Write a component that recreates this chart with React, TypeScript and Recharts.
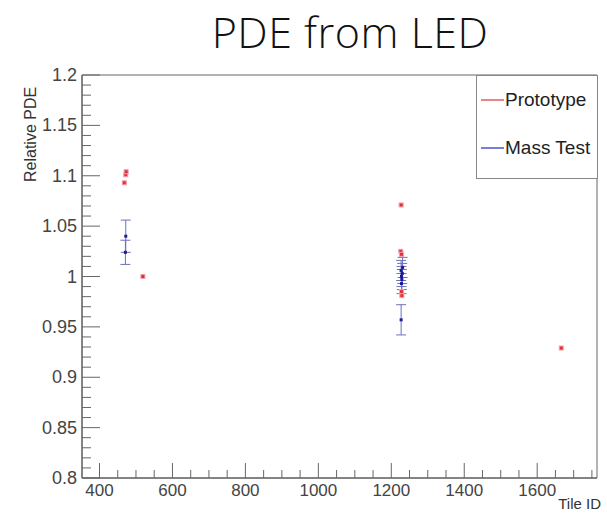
import { ScatterChart, Scatter, XAxis, YAxis, ErrorBar, ReferenceArea } from 'recharts'

// Prototype measurements (red)
const protoTile = [468, 472, 473, 519, 1227, 1226, 1228, 1228, 1229, 1666]
const protoPde = [1.093, 1.101, 1.104, 1.0, 1.071, 1.025, 1.022, 0.985, 0.981, 0.929]

// Mass test measurements (blue) with errors
const massTile = [472, 471, 1227, 1228, 1229, 1230, 1228, 1231, 1227]
const massPde = [1.04, 1.024, 1.006, 1.0, 0.997, 1.003, 0.993, 1.009, 0.957]
const massErr = [0.016, 0.012, 0.01, 0.01, 0.01, 0.01, 0.01, 0.01, 0.015]

const seriesNames = ['Prototype', 'Mass Test']
const seriesColors = ['#e8868e', '#7a7ae0']

const xMajor = [400, 600, 800, 1000, 1200, 1400, 1600]
const xTicks = [400, 450, 500, 550, 600, 650, 700, 750, 800, 850, 900, 950, 1000, 1050, 1100, 1150, 1200, 1250, 1300, 1350, 1400, 1450, 1500, 1550, 1600, 1650, 1700, 1750]
const yMajorLabels = ['0.8', '0.85', '0.9', '0.95', '1', '1.05', '1.1', '1.15', '1.2']
const yTicksHundredths = [80, 81, 82, 83, 84, 85, 86, 87, 88, 89, 90, 91, 92, 93, 94, 95, 96, 97, 98, 99, 100, 101, 102, 103, 104, 105, 106, 107, 108, 109, 110, 111, 112, 113, 114, 115, 116, 117, 118, 119, 120]

const protoData = protoTile.map((x, i) => ({ x, y: protoPde[i] }))
const massData = massTile.map((x, i) => ({ x, y: massPde[i], err: massErr[i] }))
const yTicks = yTicksHundredths.map((v) => v / 100)

const font = '"Liberation Sans", Arial, sans-serif'

const XTick = (props: any) => {
  const { x, y, payload } = props
  const major = xMajor.includes(payload.value)
  return (
    <g>
      <line x1={x} x2={x} y1={y} y2={y - (major ? 15 : 8)} stroke="#666" />
      {major && (
        <text x={x} y={y + 18} textAnchor="middle" fontSize={17} fill="#444" fontFamily={font}>
          {payload.value}
        </text>
      )}
    </g>
  )
}

const YTick = (props: any) => {
  const { x, y, payload } = props
  const h = Math.round(payload.value * 100)
  const major = h % 5 === 0
  return (
    <g>
      <line x1={x} x2={x + (major ? 18 : 9)} y1={y} y2={y} stroke="#666" />
      {major && (
        <text x={x - 5} y={y + 6} textAnchor="end" fontSize={18} fill="#444" fontFamily={font}>
          {yMajorLabels[(h - 80) / 5]}
        </text>
      )}
    </g>
  )
}

const RedDot = (props: any) => (
  <rect x={props.cx - 2} y={props.cy - 2} width={4} height={4} fill="#e0303a" stroke="#f4a0a8" strokeWidth={1} />
)
const BlueDot = (props: any) => (
  <rect x={props.cx - 1.5} y={props.cy - 1.5} width={3} height={3} fill="#1c1c9a" />
)

export default function App() {
  return (
    <div style={{ position: 'absolute', left: 0, top: 0, width: 607, height: 515, background: '#fff' }}>
      <div
        style={{
          position: 'absolute',
          left: 0,
          width: 700,
          top: 2,
          textAlign: 'center',
          fontFamily: '"Open Sans", "Noto Sans", sans-serif',
          fontWeight: 300,
          fontSize: 43,
          letterSpacing: 0.5,
          color: '#111',
        }}
      >
        PDE from LED
      </div>
      <ScatterChart width={607} height={515} margin={{ top: 75, right: 10, bottom: 0, left: 0 }}>
        <ReferenceArea x1={352} x2={1764} y1={0.8} y2={1.2} fill="none" stroke="#666" strokeWidth={1} ifOverflow="visible" />
        <XAxis
          type="number"
          dataKey="x"
          domain={[352, 1764]}
          ticks={xTicks}
          interval={0}
          tick={<XTick />}
          tickLine={false}
          tickSize={0}
          tickMargin={0}
          height={37}
          axisLine={{ stroke: '#555' }}
          label={{ value: 'Tile ID', position: 'insideBottomRight', offset: 0, dx: 4, dy: -6, fontSize: 15, fill: '#333', fontFamily: font }}
        />
        <YAxis
          type="number"
          dataKey="y"
          domain={[0.8, 1.2]}
          ticks={yTicks}
          interval={0}
          tick={<YTick />}
          tickLine={false}
          tickSize={0}
          tickMargin={0}
          width={82}
          axisLine={{ stroke: '#555' }}
          label={{ value: 'Relative PDE', angle: -90, position: 'insideTopLeft', dx: 20, dy: 102, fontSize: 16, fill: '#333', fontFamily: font }}
        />
        <Scatter name={seriesNames[0]} data={protoData} fill={seriesColors[0]} shape={<RedDot />} isAnimationActive={false} />
        <Scatter name={seriesNames[1]} data={massData} fill={seriesColors[1]} shape={<BlueDot />} isAnimationActive={false}>
          <ErrorBar dataKey="err" direction="y" width={5} stroke="#6a72b8" strokeWidth={1} />
        </Scatter>
      </ScatterChart>
      <div
        style={{
          position: 'absolute',
          left: 476,
          top: 75,
          width: 122,
          height: 104,
          border: '1px solid #888',
          background: '#fff',
          fontFamily: font,
          fontSize: 19,
          color: '#222',
          boxSizing: 'border-box',
          whiteSpace: 'nowrap',
        }}
      >
        {seriesNames.map((name, i) => (
          <div key={name} style={{ display: 'flex', alignItems: 'center', height: 24, marginTop: i === 0 ? 12 : 24 }}>
            <span style={{ display: 'inline-block', width: 23, height: 1.5, background: seriesColors[i], marginLeft: 4 }} />
            <span style={{ marginLeft: 1 }}>{name}</span>
          </div>
        ))}
      </div>
    </div>
  )
}
